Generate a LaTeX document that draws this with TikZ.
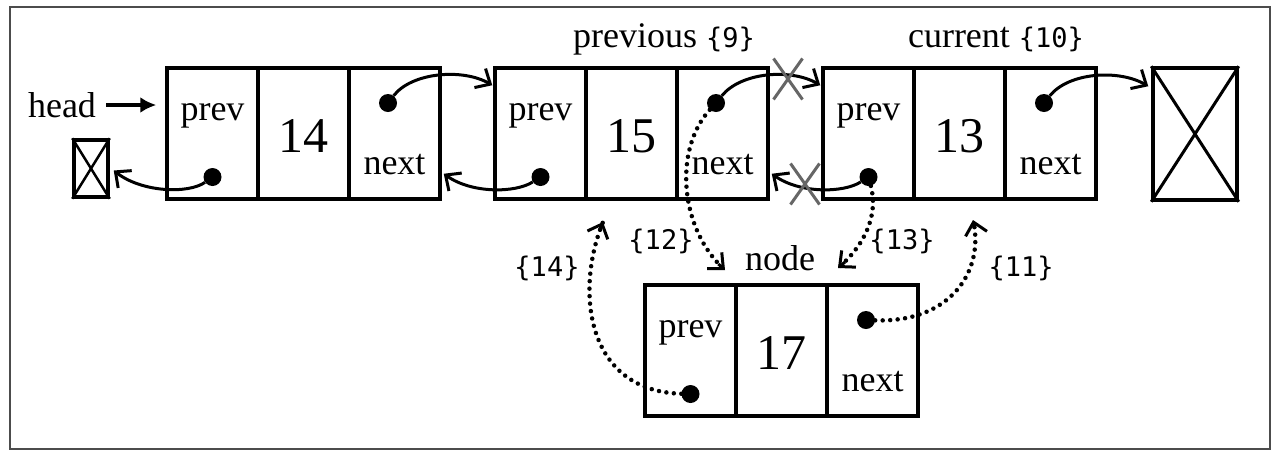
\documentclass[tikz,border=0pt]{standalone}
\usepackage{fontspec}
\setmainfont{Liberation Serif}
\newfontfamily\monof{DejaVu Sans Mono}
\usetikzlibrary{arrows.meta,calc,shapes.misc}
\tikzset{
  cell/.style={draw, line width=3.5pt, minimum width=91pt, minimum height=131pt, inner sep=0pt},
  word/.style={font=\fontsize{36}{40}\selectfont, inner sep=0pt, anchor=base},
  num/.style={font=\fontsize{50}{56}\selectfont, inner sep=0pt, anchor=base},
  mono/.style={font=\monof\fontsize{27}{30}\selectfont, inner sep=0pt},
  dot/.style={circle, fill=black, minimum size=18pt, inner sep=0pt},
  arr/.style={line width=3pt, -{Straight Barb[length=12pt,width=22pt,line width=3pt]}},
  dline/.style={line width=4.5pt, line cap=round, dash pattern=on 0pt off 7.5pt},
  tip/.style={line width=3pt, solid, -{Straight Barb[length=12pt,width=22pt,line width=3pt]}},
  nullbox/.style={draw, line width=3.5pt, inner sep=0pt},
  gx/.style={cross out, draw=black!60, line width=3pt, inner sep=0pt},
}
\newcommand{\dllnode}[4]{%
  \node[cell] (#1p) at ({#2+45.5}, {#3+65.5}) {};
  \node[cell] (#1v) at ({#2+136.5}, {#3+65.5}) {};
  \node[cell] (#1n) at ({#2+227.5}, {#3+65.5}) {};
  \node[word] (#1pt) at ({#2+45.5}, {#3+52}) {prev};
  \node[word] (#1nt) at ({#2+227.5}, {#3+106}) {next};
  \node[num] (#1vt) at ({#2+136.5}, {#3+84}) {#4};
  \node[dot] (#1pd) at ({#2+45.5}, {#3+109}) {};
  \node[dot] (#1nd) at ({#2+221}, {#3+35}) {};
}
\begin{document}
\begin{tikzpicture}[x=1pt, y=-1pt]
\useasboundingbox (0,0) rectangle (1280,459);
\draw[black!70, line width=1.5pt] (10,7) rectangle (1270,449);

\dllnode{A}{167}{68}{14}
\dllnode{B}{495}{68}{15}
\dllnode{C}{823}{68}{13}
\dllnode{D}{645}{285}{17}

% null boxes
\node[nullbox, minimum width=34pt, minimum height=57pt] (nullL) at (91,168.5) {};
\draw[line width=2.5pt] (nullL.north west) -- (nullL.south east) (nullL.north east) -- (nullL.south west);
\node[nullbox, minimum width=84pt, minimum height=132pt] (nullR) at (1195,134) {};
\draw[line width=3pt] (nullR.north west) -- (nullR.south east) (nullR.north east) -- (nullR.south west);

% labels
\node[word, anchor=center] (head) at (62,105) {head};
\draw[line width=3.5pt, -{Latex[length=16pt,width=16pt]}] ([xshift=10pt]head.east) -- ([xshift=-9pt]head.east -| Ap.west);
\node[word] (prevlbl) at (664,47) {previous {\monof\fontsize{27}{30}\selectfont\{9\}}};
\node[word] (curlbl) at (996,47) {current {\monof\fontsize{27}{30}\selectfont\{10\}}};
\node[word] (nodelbl) at (780,270) {node};
\node[mono] (l12) at (661,241) {\{12\}};
\node[mono] (l13) at (902,241) {\{13\}};
\node[mono] (l14) at (547,268) {\{14\}};
\node[mono] (l11) at (1021,268) {\{11\}};

% solid connectors
\draw[arr] (And) .. controls +(24,-31) and +(-29,-17) .. ($(Bp.north west)+(-1,19)$);
\draw[arr] (Bpd) .. controls +(-25,16) and +(28,20) .. ($(An.south east)+(2,-27)$);
\draw[arr] (Apd) .. controls +(-24,17) and +(28,22) .. ($(nullL.east)+(4,2)$);
\draw[arr] (Bnd) .. controls +(25,-31) and +(-29,-17) .. ($(Cp.north west)+(-1,19)$);
\draw[arr] (Cpd) .. controls +(-25,16) and +(28,20) .. ($(Bn.south east)+(2,-27)$);
\draw[arr] (Cnd) .. controls +(25,-31) and +(-29,-17) .. ($(nullR.north west)+(-3,20)$);

% crossed-out links
\node[gx, minimum width=26pt, minimum height=38pt] (x1) at (788,79) {};
\node[gx, minimum width=26pt, minimum height=38pt] (x2) at (805,184) {};

% dotted connectors
\coordinate (t12) at (725,270);
\coordinate (t13) at (838,268);
\coordinate (t11) at (973,220);
\coordinate (t14) at (603,222);
\draw[dline] (Bnd) .. controls +(-43,47) and +(-45,-40) .. (t12);
\draw[tip] ($(t12)+(-6.7,-6)$) -- (t12);
\draw[dline] (Cpd) .. controls +(10,38) and +(27,-23) .. (t13);
\draw[tip] ($(t13)+(6.8,-5.8)$) -- (t13);
\draw[dline] (Dnd) .. controls +(85,3) and +(12,50) .. (t11);
\draw[tip] ($(t11)+(2,8.5)$) -- (t11);
\draw[dline] (Dpd) .. controls +(-105,-3) and +(-28,68) .. (t14);
\draw[tip] ($(t14)+(-3.5,8.5)$) -- (t14);
\end{tikzpicture}
\end{document}
